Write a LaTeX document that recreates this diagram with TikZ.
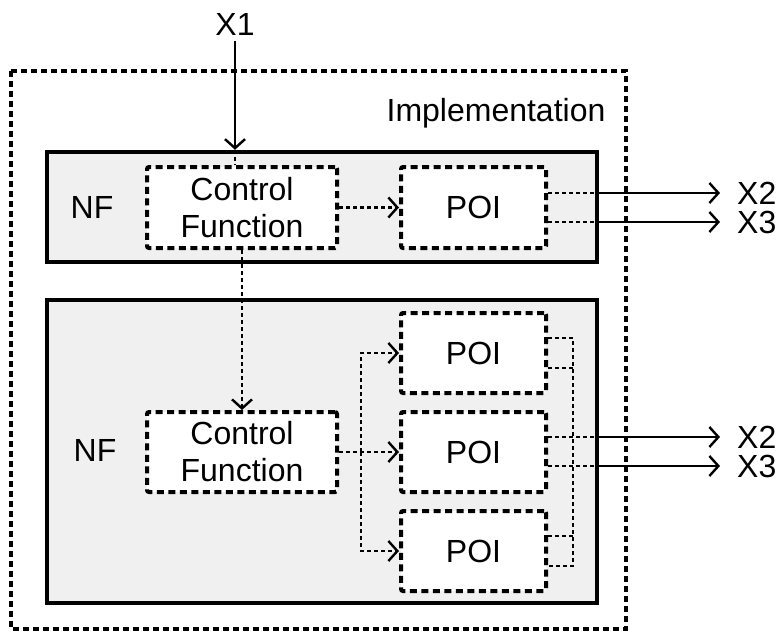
\documentclass[tikz,border=0pt]{standalone}
\usepackage{fontspec}
\setmainfont{Liberation Sans}
\usetikzlibrary{arrows.meta, positioning}
\tikzset{
>={Straight Barb[length=9pt,width=20pt,line width=2.4pt]}, % open arrow heads
every node/.style={font=\fontsize{32}{37}\selectfont}, % all texts are Arial-like
nfbox/.style={draw, line width=4.5pt, fill=black!6, inner sep=0pt}, % the network function boxes
fnbox/.style={draw, line width=4pt, dash pattern=on 7pt off 4.5pt, fill=white, rounded corners=2pt, align=center, inner sep=0pt}, % control function and POI
dotline/.style={line width=2.4pt, dash pattern=on 4pt off 3pt},
solidline/.style={line width=2.4pt},
outarrow/.style={solidline, ->, shorten >=17pt},
xlabel/.style={anchor=west, inner sep=0pt},
}

\begin{document}
\begin{tikzpicture}[x=1pt, y=-1pt]
\useasboundingbox (0,0) rectangle (776,632);
% implementation frame
\draw[line width=3.5pt, dash pattern=on 6pt off 4pt] (11,71) rectangle (626,629);
\node (impl) at (496,113) {Implementation};
\node[inner sep=6pt] (x1) at (235,24) {X1};

% first NF
\node[nfbox, minimum width=550pt, minimum height=110pt] (nf1) at (322,207) {};
\node (nf1lbl) at (92,207) {NF};
\node[fnbox, minimum width=190pt, minimum height=81pt] (cf1) at (242,207.5) {Control\\Function};
\node[fnbox, minimum width=145pt, minimum height=81pt, right=60pt of cf1] (poi1) {POI};

% second NF
\node[nfbox, minimum width=550pt, minimum height=303pt] (nf2) at (322,451.5) {};
\node (nf2lbl) at (95,450) {NF};
\node[fnbox, minimum width=190pt, minimum height=80pt] (cf2) at (242,452) {Control\\Function};
\node[fnbox, minimum width=145pt, minimum height=80pt, right=60pt of cf2] (poiB) {POI};
\node[fnbox, minimum width=145pt, minimum height=80pt, above=15pt of poiB] (poiA) {POI};
\node[fnbox, minimum width=145pt, minimum height=80pt, below=15pt of poiB] (poiC) {POI};

% output labels
\node[xlabel] (x2top) at (737,193) {X2};
\node[xlabel] (x3top) at (737,222) {X3};
\node[xlabel] (x2bot) at (737,437) {X2};
\node[xlabel] (x3bot) at (737,466) {X3};

% control path
\draw[solidline, ->] (x1) -- (x1 |- nf1.north);
\draw[dotline] (x1 |- nf1.north) -- (x1 |- cf1.north);
\draw[dotline, ->] (cf1) -- (poi1);
\draw[dotline, ->] (cf1.south) -- (cf2.north);
\coordinate (fan) at ([xshift=22pt]cf2.east);
\draw[dotline, ->] (cf2) -- (poiB);
\draw[dotline, ->] (fan) |- (poiA);
\draw[dotline, ->] (fan) |- (poiC);

% outputs of the first NF
\coordinate (o1a) at ([yshift=14.5pt]poi1.east);
\coordinate (o1b) at ([yshift=-14.5pt]poi1.east);
\draw[dotline] (o1a) -- (o1a -| nf1.east);
\draw[dotline] (o1b) -- (o1b -| nf1.east);
\draw[outarrow] (o1a -| nf1.east) -- (x2top.west);
\draw[outarrow] (o1b -| nf1.east) -- (x3top.west);

% outputs of the second NF
\coordinate (oBa) at ([yshift=15pt]poiB.east);
\coordinate (oBb) at ([yshift=-14pt]poiB.east);
\coordinate (oAa) at ([yshift=15pt]poiA.east);
\coordinate (oAb) at ([yshift=-15pt]poiA.east);
\coordinate (oCa) at ([yshift=15pt]poiC.east);
\coordinate (oCb) at ([yshift=-15pt]poiC.east);
\coordinate (bus) at ([xshift=25pt]oAa);
\draw[dotline] (oAa) -- (bus) -- (bus |- oCb) -- (oCb);
\draw[dotline] (oAb) -- (oAb -| bus);
\draw[dotline] (oCa) -- (oCa -| bus);
\draw[dotline] (oBa) -- (oBa -| nf2.east);
\draw[dotline] (oBb) -- (oBb -| nf2.east);
\draw[outarrow] (oBa -| nf2.east) -- (x2bot.west);
\draw[outarrow] (oBb -| nf2.east) -- (x3bot.west);
\end{tikzpicture}
\end{document}
